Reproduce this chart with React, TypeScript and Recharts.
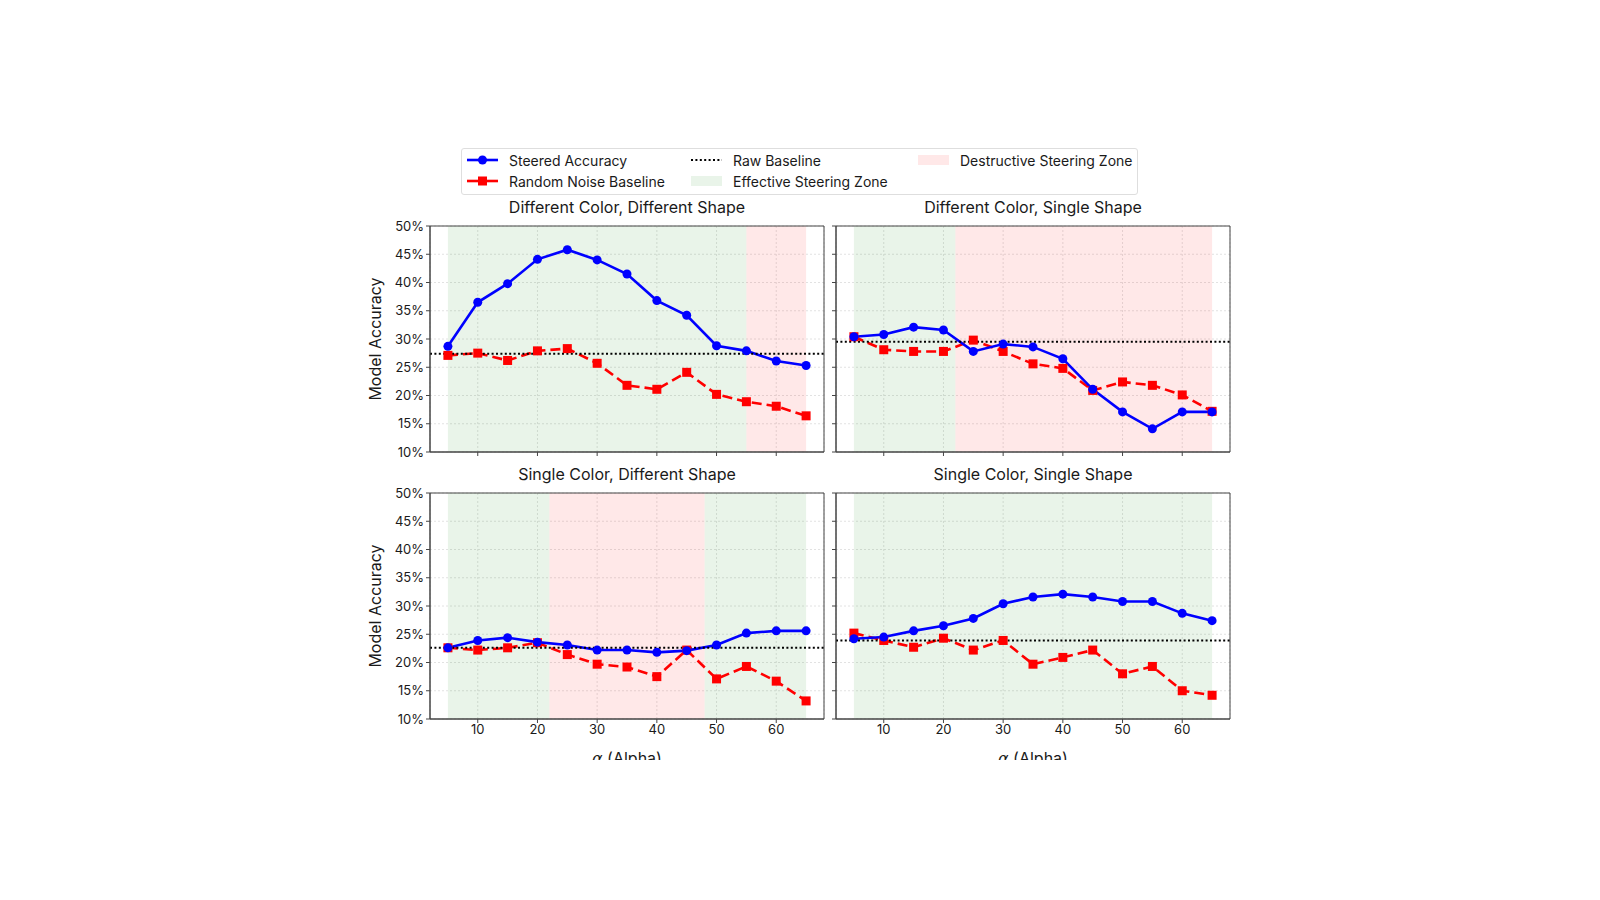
import React from "react";
import {
  CartesianGrid,
  Line,
  LineChart,
  ReferenceArea,
  ReferenceLine,
  XAxis,
  YAxis,
} from "recharts";

// steering strength values shared by every panel
const ALPHAS = [5, 10, 15, 20, 25, 30, 35, 40, 45, 50, 55, 60, 65];
const X_TICKS = [10, 20, 30, 40, 50, 60];
const Y_TICKS = [10, 15, 20, 25, 30, 35, 40, 45, 50];
const X_DOMAIN: [number, number] = [2, 68];
const Y_DOMAIN: [number, number] = [10, 50];

// accuracy (%) per panel
const DCDS_STEERED = [28.7, 36.5, 39.8, 44.1, 45.8, 44.0, 41.5, 36.8, 34.2, 28.8, 27.9, 26.1, 25.3];
const DCDS_NOISE = [27.1, 27.5, 26.2, 27.9, 28.3, 25.7, 21.8, 21.1, 24.1, 20.2, 18.9, 18.1, 16.4];
const DCSS_STEERED = [30.4, 30.8, 32.1, 31.6, 27.8, 29.1, 28.6, 26.5, 21.1, 17.1, 14.1, 17.1, 17.1];
const DCSS_NOISE = [30.4, 28.1, 27.8, 27.8, 29.8, 27.8, 25.6, 24.8, 20.9, 22.4, 21.8, 20.1, 17.2];
const SCDS_STEERED = [22.6, 23.9, 24.4, 23.6, 23.1, 22.2, 22.2, 21.8, 22.1, 23.1, 25.2, 25.6, 25.6];
const SCDS_NOISE = [22.6, 22.2, 22.6, 23.5, 21.4, 19.7, 19.2, 17.5, 22.2, 17.1, 19.3, 16.7, 13.2];
const SCSS_STEERED = [24.2, 24.5, 25.6, 26.5, 27.8, 30.4, 31.6, 32.1, 31.6, 30.8, 30.8, 28.7, 27.4];
const SCSS_NOISE = [25.2, 23.9, 22.7, 24.3, 22.2, 23.9, 19.7, 20.9, 22.2, 18.0, 19.3, 15.0, 14.2];

// raw (unsteered) accuracy per panel
const BASELINES = [27.4, 29.5, 22.6, 23.9];

// [from, to, kind] zones per panel
type Zone = [number, number, "effective" | "destructive"];
const DCDS_ZONES: Zone[] = [[5, 55, "effective"], [55, 65, "destructive"]];
const DCSS_ZONES: Zone[] = [[5, 22, "effective"], [22, 65, "destructive"]];
const SCDS_ZONES: Zone[] = [[5, 22, "effective"], [22, 48, "destructive"], [48, 65, "effective"]];
const SCSS_ZONES: Zone[] = [[5, 65, "effective"]];

const TITLES = [
  "Different Color, Different Shape",
  "Different Color, Single Shape",
  "Single Color, Different Shape",
  "Single Color, Single Shape",
];

const FONT = "Inter, 'Noto Sans', sans-serif";
const TEXT = "#1a1a1a";
const SPINE = "#444";
const BLUE = "#0000ff";
const RED = "#ff0000";
const ZONE_FILL = { effective: "rgb(0,128,0)", destructive: "rgb(255,0,0)" };
const ZONE_OPACITY = { effective: 0.085, destructive: 0.09 };

// chart box geometry
const CHART_W = 474;
const CHART_H = 276;
const Y_AXIS_W = 70;
const X_AXIS_H = 40;
const MARGIN = { top: 10, right: 10, bottom: 0, left: 0 };
const PLOT_W = CHART_W - Y_AXIS_W - MARGIN.right;
const PLOT_H = CHART_H - X_AXIS_H - MARGIN.top;

const panels = [
  { steered: DCDS_STEERED, noise: DCDS_NOISE, zones: DCDS_ZONES, left: 360, top: 216, xLabels: false, yLabels: true },
  { steered: DCSS_STEERED, noise: DCSS_NOISE, zones: DCSS_ZONES, left: 766, top: 216, xLabels: false, yLabels: false },
  { steered: SCDS_STEERED, noise: SCDS_NOISE, zones: SCDS_ZONES, left: 360, top: 483, xLabels: true, yLabels: true },
  { steered: SCSS_STEERED, noise: SCSS_NOISE, zones: SCSS_ZONES, left: 766, top: 483, xLabels: true, yLabels: false },
];

const SquareDot = (props: any) => {
  const { cx, cy, index } = props;
  if (cx == null || cy == null) return null;
  return <rect key={`sq-${index}`} x={cx - 4.5} y={cy - 4.5} width={9} height={9} fill={RED} />;
};

const tickStyle = { fontSize: 13, fill: TEXT, fontFamily: FONT };

function Panel({ idx }: { idx: number }) {
  const p = panels[idx];
  const data = ALPHAS.map((a, i) => ({ alpha: a, steered: p.steered[i], noise: p.noise[i] }));
  const plotLeft = p.left + Y_AXIS_W;
  const plotTop = p.top + MARGIN.top;

  return (
    <>
      <div
        style={{
          position: "absolute",
          left: plotLeft,
          top: plotTop - 28,
          width: PLOT_W,
          textAlign: "center",
          fontSize: 16,
          lineHeight: "19px",
          color: TEXT,
          fontFamily: FONT,
        }}
      >
        {TITLES[idx]}
      </div>
      {p.yLabels && (
        <div
          style={{
            position: "absolute",
            left: 375,
            top: plotTop + PLOT_H / 2,
            transform: "translate(-50%, -50%) rotate(-90deg)",
            whiteSpace: "nowrap",
            fontSize: 16,
            color: TEXT,
            fontFamily: FONT,
          }}
        >
          Model Accuracy
        </div>
      )}
      {p.xLabels && (
        <div
          style={{
            position: "absolute",
            left: plotLeft,
            top: plotTop + PLOT_H + 30,
            width: PLOT_W,
            textAlign: "center",
            fontSize: 16,
            lineHeight: "19px",
            color: TEXT,
            fontFamily: FONT,
          }}
        >
          <span style={{ fontStyle: "italic", fontFamily: "'DejaVu Sans', sans-serif" }}>α</span> (Alpha)
        </div>
      )}
      <div style={{ position: "absolute", left: p.left, top: p.top }}>
        <LineChart width={CHART_W} height={CHART_H} data={data} margin={MARGIN}>
          {p.zones.map(([x1, x2, kind], i) => (
            <ReferenceArea
              key={i}
              x1={x1}
              x2={x2}
              fill={ZONE_FILL[kind]}
              fillOpacity={ZONE_OPACITY[kind]}
              stroke="none"
              ifOverflow="hidden"
            />
          ))}
          <CartesianGrid stroke="#dadada" strokeWidth={0.8} strokeDasharray="2 2" />
          <XAxis
            dataKey="alpha"
            type="number"
            domain={X_DOMAIN}
            ticks={X_TICKS}
            height={X_AXIS_H}
            stroke={SPINE}
            tickSize={4}
            tick={tickStyle}
            tickFormatter={(v) => (p.xLabels ? String(v) : "")}
            allowDataOverflow
          />
          <YAxis
            type="number"
            domain={Y_DOMAIN}
            ticks={Y_TICKS}
            width={Y_AXIS_W}
            stroke={SPINE}
            tickSize={4}
            tick={tickStyle}
            tickFormatter={(v) => (p.yLabels ? `${v}%` : "")}
            allowDataOverflow
          />
          {/* frame around the plot area */}
          <ReferenceArea
            x1={X_DOMAIN[0]}
            x2={X_DOMAIN[1]}
            y1={Y_DOMAIN[0]}
            y2={Y_DOMAIN[1]}
            fill="none"
            stroke={SPINE}
            strokeWidth={1}
          />
          <Line
            dataKey="noise"
            stroke={RED}
            strokeWidth={2.6}
            strokeDasharray="10 5"
            dot={<SquareDot />}
            activeDot={false}
            isAnimationActive={false}
          />
          <Line
            dataKey="steered"
            stroke={BLUE}
            strokeWidth={2.6}
            dot={{ r: 4.5, fill: BLUE, stroke: BLUE, strokeWidth: 0 }}
            activeDot={false}
            isAnimationActive={false}
          />
          <ReferenceLine y={BASELINES[idx]} stroke="#000" strokeWidth={2} strokeDasharray="2 2.4" />
        </LineChart>
      </div>
    </>
  );
}

function Legend() {
  const item = (icon: React.ReactNode, label: string, x: number, y: number) => (
    <div style={{ position: "absolute", left: x, top: y - 9, height: 18, display: "flex", alignItems: "center" }}>
      <svg width={31} height={18} style={{ marginRight: 11 }}>
        {icon}
      </svg>
      <span style={{ fontSize: 14, color: TEXT, fontFamily: FONT, whiteSpace: "nowrap" }}>{label}</span>
    </div>
  );
  return (
    <>
      <div
        style={{
          position: "absolute",
          left: 461,
          top: 148,
          width: 677,
          height: 47,
          border: "1px solid #dedede",
          borderRadius: 3,
          background: "#fff",
          boxSizing: "border-box",
        }}
      />
      {item(
        <>
          <line x1={0} y1={9} x2={31} y2={9} stroke={BLUE} strokeWidth={2.6} />
          <circle cx={15.5} cy={9} r={4.5} fill={BLUE} />
        </>,
        "Steered Accuracy",
        467,
        160
      )}
      {item(
        <>
          <line x1={0} y1={9} x2={31} y2={9} stroke={RED} strokeWidth={2.6} />
          <rect x={11} y={4.5} width={9} height={9} fill={RED} />
        </>,
        "Random Noise Baseline",
        467,
        181
      )}
      {item(
        <line x1={0} y1={9} x2={31} y2={9} stroke="#000" strokeWidth={2} strokeDasharray="2 2.4" />,
        "Raw Baseline",
        691,
        160
      )}
      {item(
        <rect x={0} y={4} width={31} height={10} fill={ZONE_FILL.effective} fillOpacity={ZONE_OPACITY.effective} />,
        "Effective Steering Zone",
        691,
        181
      )}
      {item(
        <rect x={0} y={4} width={31} height={10} fill={ZONE_FILL.destructive} fillOpacity={ZONE_OPACITY.destructive} />,
        "Destructive Steering Zone",
        918,
        160
      )}
    </>
  );
}

export default function App() {
  return (
    <div
      style={{
        position: "absolute",
        left: 0,
        top: 0,
        width: 1600,
        height: 760,
        overflow: "hidden",
        background: "#fff",
        fontFamily: FONT,
      }}
    >
      <Legend />
      {panels.map((_, i) => (
        <Panel key={i} idx={i} />
      ))}
    </div>
  );
}
